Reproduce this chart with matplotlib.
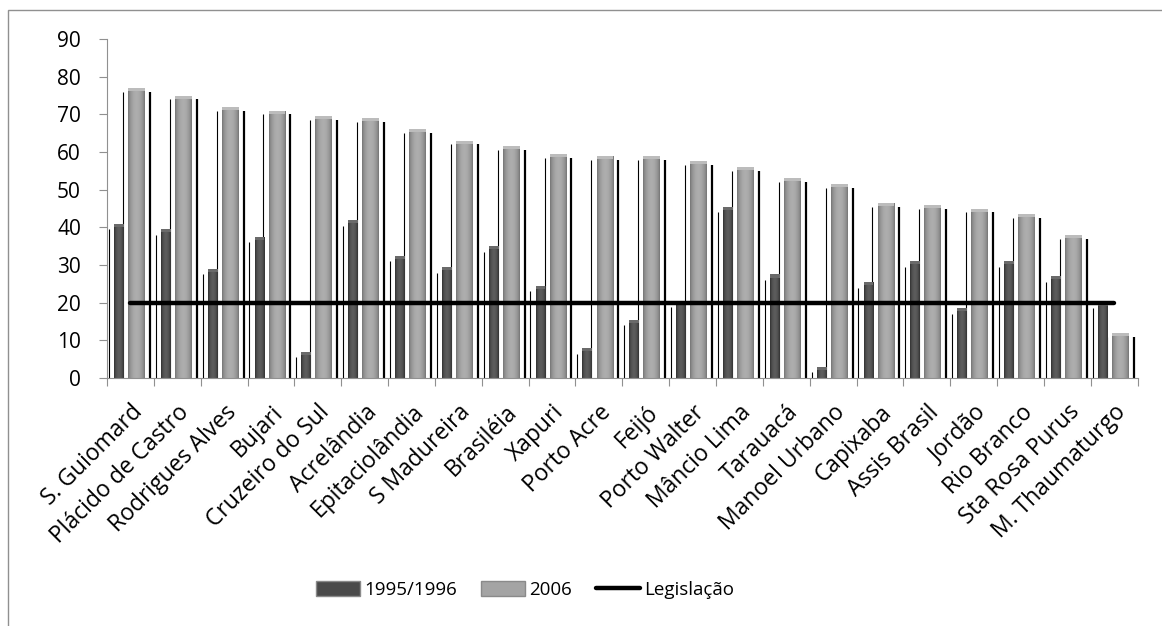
import matplotlib
matplotlib.use("Agg")
import matplotlib.pyplot as plt
import matplotlib.patches as ptch
from matplotlib.lines import Line2D
import numpy as np

plt.rcParams['font.family'] = ['Open Sans', 'DejaVu Sans']

municipios = ['S. Guiomard', 'Plácido de Castro', 'Rodrigues Alves', 'Bujari',
              'Cruzeiro do Sul', 'Acrelândia', 'Epitaciolândia', 'S Madureira',
              'Brasiléia', 'Xapuri', 'Porto Acre', 'Feijó', 'Porto Walter',
              'Mâncio Lima', 'Tarauacá', 'Manoel Urbano', 'Capixaba',
              'Assis Brasil', 'Jordão', 'Rio Branco', 'Sta Rosa Purus',
              'M. Thaumaturgo']
v1995 = [41, 39.5, 29, 37.5, 7, 42, 32.5, 29.5, 35, 24.5, 8, 15.5, 20.5,
         45.5, 27.5, 3, 25.5, 31, 18.5, 31, 27, 20]
v2006 = [77, 75, 72, 71, 69.5, 69, 66, 63, 61.5, 59.5, 59, 59, 57.5, 56,
         53, 51.5, 46.5, 46, 45, 43.5, 38, 12]
legislacao = [20] * len(municipios)

fig = plt.figure(figsize=(11.62, 6.26), dpi=100)
ax = fig.add_axes([0.0921, 0.396, 0.8869, 0.5417])

x = np.arange(len(municipios))

# cylinder-ish shading for each bar
def shade(lo, hi):
    t = np.linspace(0, 1, 64)
    prof = np.sin(np.pi * t) ** 0.7
    return np.atleast_2d(lo + (hi - lo) * prof)

grad_dark = shade(0.18, 0.36)
grad_light = shade(0.45, 0.68)

bars1 = ax.bar(x - 0.245, v1995, width=0.21, color='none', edgecolor='none', zorder=2)
bars2 = ax.bar(x + 0.13, v2006, width=0.36, color='none', edgecolor='none', zorder=2)

for bars, g, rim in ((bars1, grad_dark, '#6a6a6a'), (bars2, grad_light, '#bcbcbc')):
    for b in bars:
        x0, w, h = b.get_x(), b.get_width(), b.get_height()
        im = ax.imshow(g, cmap='gray', vmin=0, vmax=1, aspect='auto',
                       extent=(x0, x0 + w, 0, h), zorder=2)
        im.set_clip_path(b)
        # lighter top rim
        ax.add_patch(ptch.Rectangle((x0, h - 0.8), w, 0.8, facecolor=rim,
                                    edgecolor='none', zorder=3))

# black reflection lines of the 3D look
ax.vlines(x - 0.46, 0, np.array(v1995) - 1.5, color='black', lw=0.8, zorder=1)
ax.vlines(x - 0.16, 0, np.array(v2006) - 1, color='black', lw=0.8, zorder=1)
ax.vlines(x + 0.415, 0, np.array(v2006) - 1, color='black', lw=1.6, zorder=1)

ax.plot(x, legislacao, color='black', lw=3.2, solid_capstyle='round', zorder=4)

ax.set_xlim(-0.5, len(municipios) - 0.5)
ax.set_ylim(0, 90)
ax.set_yticks(range(0, 91, 10))
ax.set_xticks(np.arange(len(municipios) + 1) - 0.5)
ax.set_xticklabels([])
ax.set_xticks(x, minor=True)
ax.set_xticklabels(municipios, minor=True, rotation=45, ha='right', va='top',
                   rotation_mode='anchor', fontsize=16.5)
ax.tick_params(axis='x', which='minor', length=0, pad=16)
ax.tick_params(axis='x', which='major', length=5.5, color='#909090', direction='out')
ax.tick_params(axis='y', length=5.8, color='#909090', labelsize=15, pad=13)

for s in ('top', 'right'):
    ax.spines[s].set_visible(False)
for s in ('left', 'bottom'):
    ax.spines[s].set_color('#909090')

handles = [ptch.Patch(facecolor='#4a4a4a', edgecolor='#8a8a8a'),
           ptch.Patch(facecolor='#a4a4a4', edgecolor='#8a8a8a'),
           Line2D([0], [0], color='black', lw=3.2, solid_capstyle='round')]
fig.legend(handles, ['1995/1996', '2006', 'Legislação'], ncol=3,
           loc='center', bbox_to_anchor=(0.452, 0.0575), frameon=False,
           fontsize=13.5, handlelength=2.35, handleheight=0.9,
           handletextpad=0.2, columnspacing=1.3)

# outer chart border
fig.add_artist(ptch.Rectangle((8 / 1162, -0.1), 1.2, 1 - 10 / 626 + 0.1,
                              transform=fig.transFigure, fill=False,
                              edgecolor='#909090', lw=1))

fig.savefig('out.png', dpi=100)
